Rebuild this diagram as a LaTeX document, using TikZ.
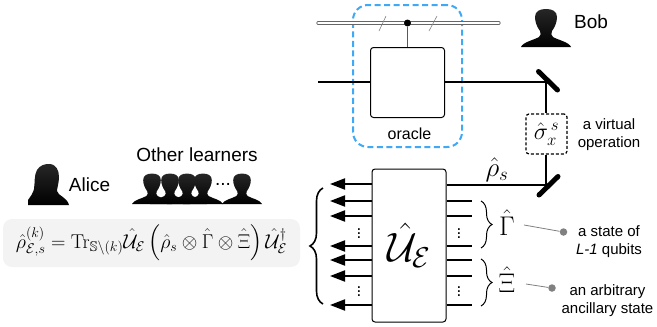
\RequirePackage{fix-cm}
\documentclass[tikz,border=0pt]{standalone}
\usepackage{amsmath,amssymb}
\usepackage[no-math]{fontspec}
\setmainfont{Liberation Sans}
\usepackage{xcolor}
\usetikzlibrary{positioning,calc,arrows.meta,decorations.pathreplacing}

\definecolor{oracleblue}{RGB}{63,169,245}
\definecolor{panelgray}{RGB}{243,243,243}

\tikzset{
    wire/.style={line width=2pt},
    mirror/.style={line width=5pt, line cap=round},
    gatebox/.style={draw, line width=1pt, rounded corners=3pt, fill=white, inner sep=0pt},
    bigtext/.style={font=\fontsize{19}{22}\selectfont, inner sep=0pt},
    smalltext/.style={font=\fontsize{15}{18}\selectfont, inner sep=0pt, align=center},
    inbrace/.style={decorate, decoration={brace, amplitude=11pt}, line width=1pt},
    leader/.style={draw=gray, line width=0.8pt},
    leaderdot/.style={circle, fill=gray, inner sep=0pt, minimum size=7.5pt},
    silhouette/.style={top color=black!85, middle color=black!55, bottom color=black, shading angle=0},
    pics/male/.style={code={
        \path[silhouette] (-25,0) .. controls (-23,-5) and (-12,-7) .. (-7,-10)
            .. controls (-5,-11) and (-5,-14) .. (-6,-16)
            .. controls (-9,-20) and (-11,-25) .. (-11,-30)
            .. controls (-11,-36) and (-6,-38) .. (0,-38)
            .. controls (6,-38) and (11,-36) .. (11,-30)
            .. controls (11,-25) and (9,-20) .. (6,-16)
            .. controls (5,-14) and (5,-11) .. (7,-10)
            .. controls (12,-7) and (23,-5) .. (25,0) -- cycle;
    }},
    pics/female/.style={code={
        \path[silhouette] (-20,0) -- (-20,-5) .. controls (-17,-9) and (-15,-12) .. (-14,-16)
            .. controls (-13,-22) and (-14,-30) .. (-11,-35)
            .. controls (-8,-40) and (-3,-41) .. (1,-41)
            .. controls (8,-41) and (11,-35) .. (11,-28)
            .. controls (11,-22) and (9,-17) .. (9,-14)
            .. controls (10,-9) and (19,-8) .. (21,0) -- cycle;
    }}
}

\begin{document}
\begin{tikzpicture}[x=1pt,y=-1pt]
    \useasboundingbox (0,0) rectangle (657,327);

    % Oracle
    \node[draw=oracleblue, line width=2pt, dash pattern=on 6pt off 3.5pt, rounded corners=15pt, minimum width=109pt, minimum height=142pt, inner sep=0pt] (Halo) at (407.5,76) {};
    \coordinate (BusL) at (318,23);
    \coordinate (BusR) at (499,23);
    \draw[draw=black!60, line width=0.8pt, double=white, double distance=1.6pt, line cap=round] (BusL) -- (BusR);
    \node[gatebox, minimum width=74pt, minimum height=70pt] (Oracle) at (407.5,82.5) {};
    \node[circle, fill=black, inner sep=0pt, minimum size=7pt] (Ctrl) at (407.5,23) {};
    \draw[draw=black!65, line width=1.4pt] (Ctrl) -- (Oracle);
    \draw[draw=black!50, line width=0.6pt] (379,31) -- (386,16);
    \draw[draw=black!50, line width=0.6pt] (429,31) -- (437,16);
    \node[font=\fontsize{16}{19}\selectfont, inner sep=0pt] (OracleLabel) at (409.5,134) {oracle};

    % Beam path
    \coordinate (InL) at (318,82);
    \coordinate (MirrorTop) at (546,82);
    \draw[wire] (InL) -- (Oracle.west |- InL);
    \draw[wire] (Oracle.east |- InL) -- (MirrorTop);
    \draw[mirror] (538.5,71.5) -- (557.5,90);
    \node[draw, dash pattern=on 3pt off 2pt, line width=1.2pt, rounded corners=3pt, minimum width=41pt, minimum height=40pt, inner sep=0pt, fill=white] (Sigma) at (546.5,134) {\fontsize{24}{26}\selectfont$\hat{\sigma}_x^{\,s}$};
    \node[smalltext, right=10pt of Sigma, yshift=-0.5pt] (SigmaLabel) {a virtual\\operation};

    % Unitary
    \node[gatebox, minimum width=74pt, minimum height=153pt] (Unitary) at (409,245.5) {\fontsize{41}{44}\selectfont$\hat{\mathcal{U}}_{\mathcal{E}}$};
    \coordinate (MirrorLow) at (546,185);
    \draw[wire] (MirrorTop) -- (MirrorTop |- Sigma.north);
    \draw[wire] (MirrorLow |- Sigma.south) -- (MirrorLow);
    \draw[wire] (Unitary.east |- MirrorLow) -- (MirrorLow);
    \draw[mirror] (539,195) -- (558,176.5);
    \node[inner sep=0pt] (RhoLabel) at (497,170) {\fontsize{27}{29}\selectfont$\hat{\rho}_s$};

    % Wires left and right
    \foreach \i/\y in {0/184,1/201,2/216,3/246,4/260,5/276,6/305} {
        \coordinate (Tip\i) at (330,\y);
        \draw[wire, -{Triangle[length=15pt,width=11pt]}] (Unitary.west |- Tip\i) -- (Tip\i);
    }
    \foreach \i/\y in {1/201,2/216,3/246,4/260,5/276,6/305} {
        \coordinate (End\i) at (472,\y);
        \draw[wire] (Unitary.east |- End\i) -- (End\i);
    }
    \foreach \x in {359,459} {
        \foreach \y in {231,289} {
            \node[font=\fontsize{17}{17}\selectfont, inner sep=0pt] at (\x,\y) {$\vdots$};
        }
    }

    % Braces
    \draw[decorate, decoration={brace, amplitude=13pt}, line width=1.6pt] (323,304) -- (323,188);
    \draw[inbrace] (481,201) -- (481,248);
    \draw[inbrace] (481,259) -- (481,306);
    \node[inner sep=0pt] (Gamma) at (507,223) {\fontsize{27}{29}\selectfont$\hat{\Gamma}$};
    \node[inner sep=0pt] (Xi) at (507,280) {\fontsize{27}{29}\selectfont$\hat{\Xi}$};

    % Labels
    \node[leaderdot] (DotGamma) at (563.5,232) {};
    \node[leaderdot] (DotXi) at (552,288) {};
    \coordinate (GammaEnd) at (524,225);
    \coordinate (XiEnd) at (526,284);
    \draw[leader] (GammaEnd) -- (DotGamma);
    \draw[leader] (XiEnd) -- (DotXi);
    \node[smalltext] (GammaLabel) at (609,241.5) {a state of\\\textit{L-1} qubits};
    \node[smalltext] (XiLabel) at (607.5,300.5) {an arbitrary\\ancillary state};

    % People
    \pic at (546,47) {male};
    \node[bigtext] (Bob) at (591,22) {Bob};
    \pic at (48,205) {female};
    \node[bigtext] (Alice) at (89.5,185) {Alice};
    \node[bigtext] (Others) at (197,155) {Other learners};
    \foreach \x in {152,170,187,203,242} {
        \pic[scale=0.8] at (\x,204) {male};
    }
    \node[bigtext] (Dots) at (223,184) {...};

    % Output state
    \node[fill=panelgray, rounded corners=9pt, minimum width=297pt, minimum height=48pt, inner sep=0pt] (Panel) at (151.5,243)
        {\fontsize{20}{23}\selectfont$\hat{\rho}_{\mathcal{E},s}^{(k)}=\mathrm{Tr}_{\mathbb{S}\setminus(k)}\hat{\mathcal{U}}_{\mathcal{E}}\left(\hat{\rho}_s\otimes\hat{\Gamma}\otimes\hat{\Xi}\right)\hat{\mathcal{U}}_{\mathcal{E}}^{\dagger}$};
\end{tikzpicture}
\end{document}
